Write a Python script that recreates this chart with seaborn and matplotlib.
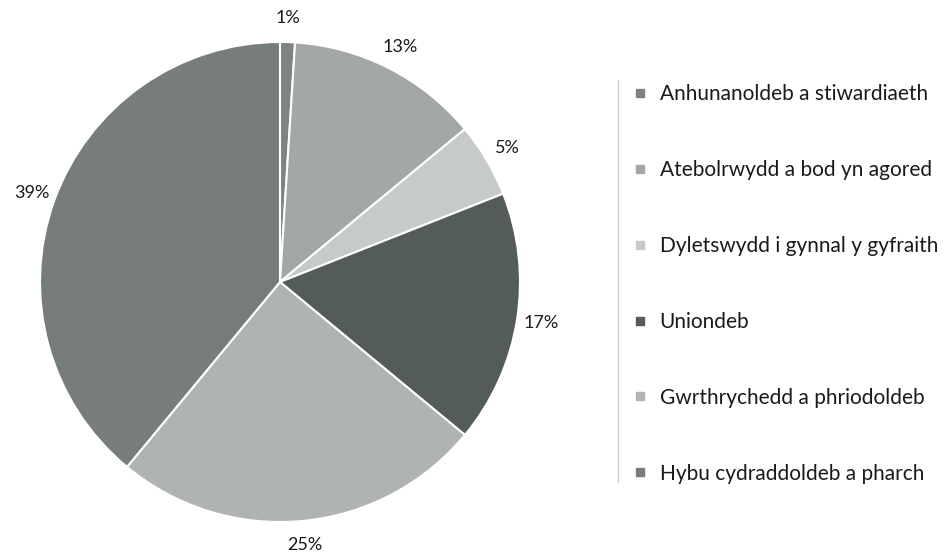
import matplotlib
matplotlib.use("Agg")
import matplotlib.pyplot as plt
from matplotlib.lines import Line2D
import seaborn as sns

# ----------------------------------------------------
# Data
# ----------------------------------------------------

categories = [
    "Anhunanoldeb a stiwardiaeth",
    "Atebolrwydd a bod yn agored",
    "Dyletswydd i gynnal y gyfraith",
    "Uniondeb",
    "Gwrthrychedd a phriodoldeb",
    "Hybu cydraddoldeb a pharch",
]
shares = [1, 13, 5, 17, 25, 39]
colours = ["#7c8380", "#a3a8a6", "#c6cac8", "#545c59", "#afb4b2", "#767d7a"]

# ----------------------------------------------------
# Style
# ----------------------------------------------------

sns.set_theme(style="white")
plt.rcParams["font.family"] = ["Lato", "DejaVu Sans"]

W, H = 952, 558
fig = plt.figure(figsize=(W / 100, H / 100), dpi=100)

# pie axes: centre (280, 282) px, radius 240 px
cx, cy, r = 280, 282, 240
ax = fig.add_axes([(cx - r) / W, (H - cy - r) / H, 2 * r / W, 2 * r / H])

wedges, _, pcts = ax.pie(
    shares,
    colors=colours,
    startangle=90,
    counterclock=False,
    autopct="%d%%",
    pctdistance=1.1,
    wedgeprops=dict(edgecolor="white", linewidth=1.5),
    textprops=dict(fontsize=13, color="#1a1a1a"),
)
ax.set_xlim(-1, 1)
ax.set_ylim(-1, 1)
ax.axis("off")

# ----------------------------------------------------
# Legend
# ----------------------------------------------------

handles = [
    Line2D([], [], marker="s", linestyle="none", markersize=6,
           markerfacecolor=c, markeredgecolor=c)
    for c in colours
]
fig.legend(
    handles,
    categories,
    loc="upper left",
    bbox_to_anchor=(623 / W, 1 - 74 / H),
    frameon=False,
    fontsize=15,
    labelspacing=2.68,
    handlelength=0.6,
    handletextpad=0.66,
    borderpad=0,
    labelcolor="#1a1a1a",
)

fig.add_artist(Line2D([618 / W, 618 / W], [1 - 80 / H, 1 - 482 / H],
                      color="#d0d0d0", linewidth=1))

fig.savefig("out.png", dpi=100)
